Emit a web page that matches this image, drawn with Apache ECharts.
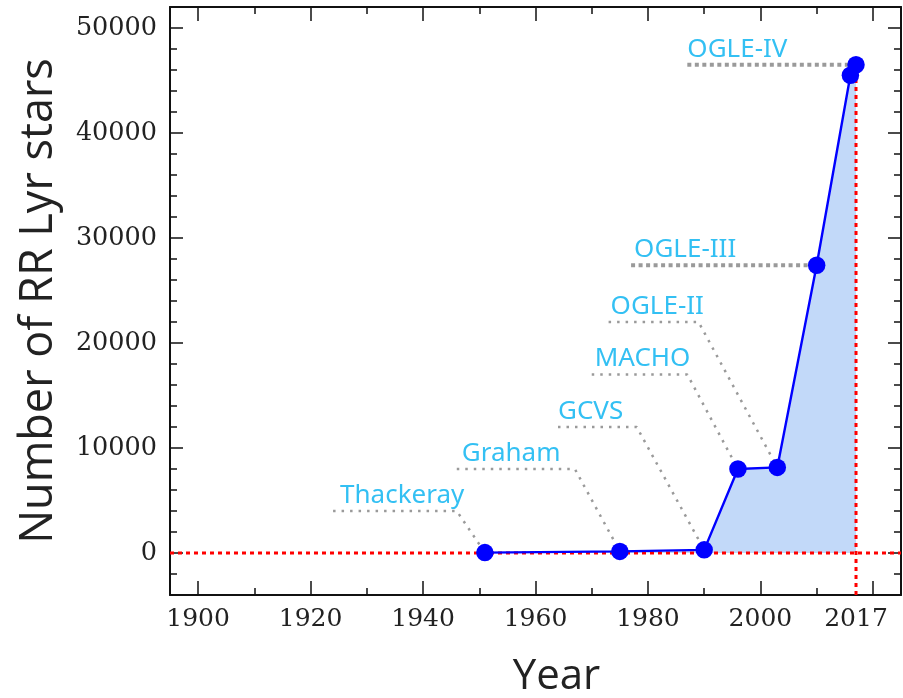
<!DOCTYPE html>
<html>
<head>
<meta charset="utf-8">
<script src="https://cdn.jsdelivr.net/npm/echarts@6/dist/echarts.min.js"></script>
<style>
  html, body { margin: 0; padding: 0; background: #ffffff; }
  #chart { width: 903px; height: 698px; }
</style>
</head>
<body>
<div id="chart"></div>
<script>
// Cumulative number of known RR Lyrae stars by survey year
const years = [1951, 1975, 1990, 1996, 2003, 2010, 2016, 2017];
const starCounts = [40, 150, 300, 8000, 8150, 27400, 45500, 46500];

// Survey annotations: name, where its leader starts, its elbow and the point it marks
const surveyNames = ['Thackeray', 'Graham', 'GCVS', 'MACHO', 'OGLE-II', 'OGLE-III', 'OGLE-IV'];
const surveyStartYears = [1924, 1946, 1964, 1970, 1973, 1977, 1987];
const surveyElbowYears = [1946, 1967, 1978, 1987, 1989, null, null];
const surveyLevels = [4000, 8000, 12000, 17000, 22000, 27400, 46500];
const surveyTargets = [0, 1, 2, 3, 4, 5, 7];

// Axis ticks and labels
const xMajorTicks = [1900, 1920, 1940, 1960, 1980, 2000, 2020];
const xMinorTicks = [1910, 1930, 1950, 1970, 1990, 2010];
const xTickLabels = [1900, 1920, 1940, 1960, 1980, 2000, 2017];
const yMajorTicks = [0, 10000, 20000, 30000, 40000, 50000];
const yMinorTicks = [-2000, 2000, 4000, 6000, 8000, 12000, 14000, 16000, 18000,
  22000, 24000, 26000, 28000, 32000, 34000, 36000, 38000, 42000, 44000, 46000, 48000];
const xRange = [1895, 2025];
const yRange = [-4000, 52000];
const referenceYear = 2017;

const chart = echarts.init(document.getElementById('chart'), null, { renderer: 'canvas' });

const points = years.map((y, i) => [y, starCounts[i]]);
const frameColor = '#111111';
const labelBlue = '#00B0F0';
const leaderGrey = '#9a9a9a';

function xAxisDef(position, ticks, len, withLine, labels) {
  return {
    type: 'value', position: position, min: xRange[0], max: xRange[1],
    axisLine: { show: withLine, onZero: false, lineStyle: { color: frameColor, width: 2 } },
    axisTick: { show: true, inside: true, length: len, customValues: ticks,
      lineStyle: { color: frameColor, width: 1.5 } },
    axisLabel: labels ? {
      show: true, customValues: labels, margin: 12, color: '#222222',
      fontFamily: 'DejaVu Serif', fontSize: 25, formatter: v => String(v)
    } : { show: false },
    splitLine: { show: false }
  };
}
function yAxisDef(position, ticks, len, withLine, labels) {
  return {
    type: 'value', position: position, min: yRange[0], max: yRange[1],
    axisLine: { show: withLine, onZero: false, lineStyle: { color: frameColor, width: 2 } },
    axisTick: { show: true, inside: true, length: len, customValues: ticks,
      lineStyle: { color: frameColor, width: 1.5 } },
    axisLabel: labels ? {
      show: true, customValues: labels, margin: 13, color: '#222222',
      fontFamily: 'DejaVu Serif', fontSize: 25.5, formatter: v => String(v)
    } : { show: false },
    splitLine: { show: false }
  };
}

const xAxes = [
  xAxisDef('bottom', xMajorTicks, 14, true, xTickLabels),
  xAxisDef('bottom', xMinorTicks, 7, false, null),
  xAxisDef('top', xMajorTicks, 14, true, null),
  xAxisDef('top', xMinorTicks, 7, false, null)
];
Object.assign(xAxes[0], {
  name: 'Year', nameLocation: 'middle', nameGap: 61,
  nameTextStyle: { fontFamily: 'Open Sans', fontSize: 42, color: '#222222', padding: [0, 0, 0, 42] }
});
const yAxes = [
  yAxisDef('left', yMajorTicks, 13, true, yMajorTicks),
  yAxisDef('left', yMinorTicks, 7, false, null),
  yAxisDef('right', yMajorTicks, 13, true, null),
  yAxisDef('right', yMinorTicks, 7, false, null)
];
Object.assign(yAxes[0], {
  name: 'Number of RR Lyr stars', nameLocation: 'middle', nameGap: 108,
  nameTextStyle: { fontFamily: 'Open Sans', fontSize: 45, color: '#222222' }
});

// Leader lines from each survey label to its point
const leaderSeries = surveyNames.map((name, i) => {
  const target = points[surveyTargets[i]];
  const path = [[surveyStartYears[i], surveyLevels[i]]];
  if (surveyElbowYears[i] !== null) path.push([surveyElbowYears[i], surveyLevels[i]]);
  path.push(target);
  const heavy = surveyElbowYears[i] === null;
  return {
    type: 'line', name: name + ' leader', data: path, z: 3,
    showSymbol: false, symbol: 'none', silent: true, animation: false,
    lineStyle: heavy
      ? { color: leaderGrey, width: 4, type: [4, 3.5] }
      : { color: leaderGrey, width: 2.5, type: [2.5, 6] }
  };
});

const labelOffsets = [7, 5, 0, 3, 2, 3, 0];
const labelSeries = {
  type: 'scatter', name: 'survey labels', z: 6, silent: true, animation: false,
  symbolSize: 1, itemStyle: { color: 'rgba(0,0,0,0)' },
  data: surveyNames.map((name, i) => ({
    name: name, value: [surveyStartYears[i], surveyLevels[i]],
    label: { offset: [labelOffsets[i], 0] }
  })),
  label: {
    show: true, position: 'top', distance: 2, align: 'left',
    formatter: p => p.name, color: labelBlue,
    fontFamily: 'Noto Sans', fontSize: 26
  }
};

const option = {
  backgroundColor: '#ffffff',
  animation: false,
  grid: { left: 170, top: 7, right: 2, bottom: 103, containLabel: false, outerBoundsMode: 'none' },
  xAxis: xAxes,
  yAxis: yAxes,
  series: [
    {
      type: 'line', name: 'filled area', data: points, z: 1,
      showSymbol: false, symbol: 'none', silent: true,
      lineStyle: { width: 0, opacity: 0 },
      areaStyle: { color: '#c2d9f9', opacity: 1, origin: 0 }
    },
    {
      type: 'line', name: 'zero level', z: 2, silent: true,
      data: [[xRange[0], 0], [xRange[1], 0]], showSymbol: false, symbol: 'none',
      lineStyle: { color: '#ff0000', width: 3, type: [4, 4] }
    },
    {
      type: 'line', name: 'reference year', z: 2, silent: true,
      data: [[referenceYear, yRange[0]], [referenceYear, starCounts[starCounts.length - 1]]],
      showSymbol: false, symbol: 'none',
      lineStyle: { color: '#ff0000', width: 3, type: [4, 4] }
    },
    ...leaderSeries,
    {
      type: 'line', name: 'RR Lyr stars', data: points, z: 5,
      symbol: 'circle', symbolSize: 17.5, showSymbol: true,
      lineStyle: { color: '#0000ff', width: 2.4 },
      itemStyle: { color: '#0000ff' }
    },
    labelSeries
  ]
};

chart.setOption(option);
</script>
</body>
</html>
